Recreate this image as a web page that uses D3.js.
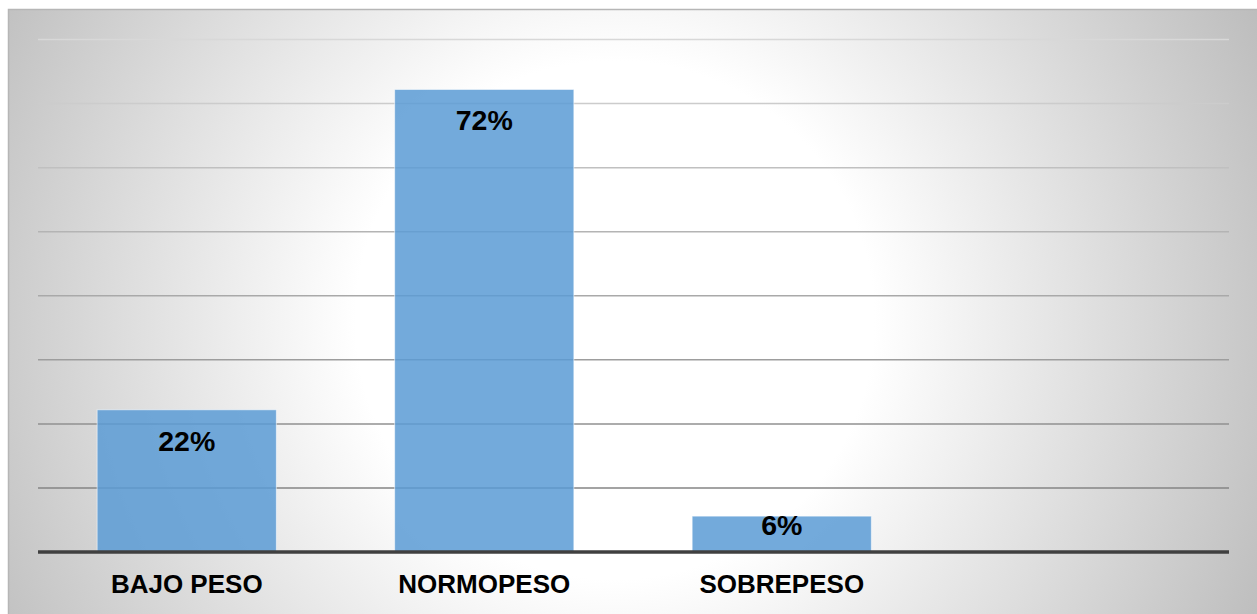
<!DOCTYPE html>
<html>
<head>
<meta charset="utf-8">
<script src="https://cdn.jsdelivr.net/npm/d3@7"></script>
<style>
  html, body { margin: 0; padding: 0; background: #ffffff; }
  svg { display: block; }
</style>
</head>
<body>
<svg id="chart" width="1257" height="614"></svg>
<script>
const categories = ["BAJO PESO", "NORMOPESO", "SOBREPESO", ""];
const values = [0.222, 0.722, 0.056];
const gridTicks = [0.1, 0.2, 0.3, 0.4, 0.5, 0.6, 0.7, 0.8];

const svg = d3.select("#chart");
const W = 1257, H = 614;

const defs = svg.append("defs");
const rg = defs.append("radialGradient")
  .attr("id", "bg")
  .attr("gradientUnits", "userSpaceOnUse")
  .attr("cx", 615).attr("cy", 320).attr("r", 720);
rg.append("stop").attr("offset", 0).attr("stop-color", "#ffffff");
rg.append("stop").attr("offset", 0.36).attr("stop-color", "#ffffff");
rg.append("stop").attr("offset", 1).attr("stop-color", "#bcbcbc");

svg.append("rect")
  .attr("x", 8.5).attr("y", 9.5)
  .attr("width", W).attr("height", H)
  .attr("fill", "url(#bg)")
  .attr("stroke", "#b6b6b6").attr("stroke-width", 1.5);

const x = d3.scaleBand()
  .domain(categories)
  .range([38, 1228])
  .paddingInner(0.3976)
  .paddingOuter(0.3976 / 2);

const y = d3.scaleLinear().domain([0, 0.8]).range([552, 39.5]);

const gridColor = d3.scaleLinear().domain([0.8, 0.1]).range(["#d8d8d8", "#858585"]);

svg.append("g").selectAll("line")
  .data(gridTicks)
  .join("line")
  .attr("x1", 38).attr("x2", 1229)
  .attr("y1", d => y(d)).attr("y2", d => y(d))
  .attr("stroke", d => gridColor(d))
  .attr("stroke-width", 1.5);

svg.append("g").selectAll("rect")
  .data(values)
  .join("rect")
  .attr("x", (d, i) => x(categories[i]))
  .attr("y", d => y(d))
  .attr("width", x.bandwidth())
  .attr("height", d => y(0) - y(d))
  .attr("fill", "#5b9bd5")
  .attr("fill-opacity", 0.85)
  .attr("stroke", "rgba(255,255,255,0.55)")
  .attr("stroke-width", 1);

// baseline axis
const xAxis = d3.axisBottom(x).tickSize(0).tickPadding(0);
const ax = svg.append("g").attr("transform", `translate(0,${y(0)})`).call(xAxis);
ax.select(".domain")
  .attr("d", "M38,0H1229")
  .attr("stroke", "#404040")
  .attr("stroke-width", 3.5);
ax.selectAll(".tick text")
  .attr("y", 41)
  .attr("dy", 0)
  .attr("fill", "#000")
  .style("font-family", "'Liberation Sans', Arial, sans-serif")
  .style("font-weight", "bold")
  .style("font-size", "26px");

const fmt = d3.format(".0%");
svg.append("g").selectAll("text")
  .data(values)
  .join("text")
  .attr("x", (d, i) => x(categories[i]) + x.bandwidth() / 2)
  .attr("y", d => Math.min(y(d) + 41, y(0) - 17.5))
  .attr("text-anchor", "middle")
  .attr("fill", "#000")
  .style("font-family", "'Liberation Sans', Arial, sans-serif")
  .style("font-weight", "bold")
  .style("font-size", "28.5px")
  .text(d => fmt(d));
</script>
</body>
</html>
